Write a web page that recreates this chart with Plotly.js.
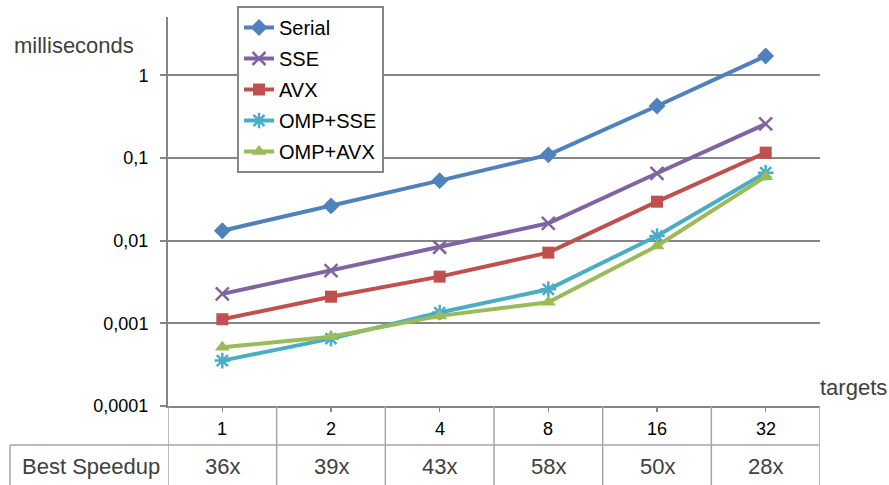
<!DOCTYPE html>
<html>
<head>
<meta charset="utf-8">
<script src="https://cdn.plot.ly/plotly-3.0.1.min.js"></script>
<style>html,body{margin:0;padding:0;background:#fff;}#chart{width:889px;height:485px;}</style>
</head>
<body>
<div id="chart"></div>
<script>
// ---- data ----
const targets = ['1', '2', '4', '8', '16', '32'];
const serial  = [0.0132, 0.0263, 0.0532, 0.109, 0.425, 1.71];
const sse     = [0.00227, 0.00434, 0.00832, 0.0162, 0.0653, 0.258];
const avx     = [0.00112, 0.0021, 0.00367, 0.00716, 0.0296, 0.116];
const ompSse  = [0.000354, 0.000653, 0.00135, 0.00258, 0.0114, 0.0664];
const ompAvx  = [0.000514, 0.00069, 0.00123, 0.0018, 0.00863, 0.0594];
const speedups = ['36x', '39x', '43x', '58x', '50x', '28x'];
const yTickVals = [0.0001, 0.001, 0.01, 0.1, 1];
const yTickText = ['0,0001', '0,001', '0,01', '0,1', '1'];

const FONT = 'Liberation Sans, Arial, sans-serif';
const W = 889, H = 485;
const M = {l: 168, r: 69, t: 17, b: 79, autoexpand: false};
const PW = W - M.l - M.r, PH = H - M.t - M.b;
const px = X => (X - M.l) / PW;          // pixel x -> paper x
const py = Y => (H - M.b - Y) / PH;      // pixel y -> paper y

function series(name, y, color, marker) {
  return {
    type: 'scatter', mode: 'lines+markers', name: name, legendgroup: name,
    x: targets, y: y,
    line: {color: color, width: 4},
    marker: Object.assign({color: color}, marker)
  };
}

const data = [
  series('Serial', serial, '#4F81BD', {symbol: 'diamond', size: 13}),
  series('SSE', sse, '#8064A2', {symbol: 'x-thin-open', size: 13, line: {color: '#8064A2', width: 2.5}}),
  series('AVX', avx, '#C0504D', {symbol: 'square', size: 12}),
  series('OMP+SSE', ompSse, '#4BACC6', {symbol: 'asterisk-open', size: 13, line: {color: '#4BACC6', width: 2.5}}),
  series('OMP+AVX', ompAvx, '#9BBB59', {symbol: 'triangle-up', size: 13})
];

const TABLE = '#A6A6A6';
const shapes = [];
// vertical table separators at category boundaries
for (let i = 0; i <= targets.length; i++) {
  shapes.push({type: 'line', xref: 'x', yref: 'paper', x0: i - 0.5, x1: i - 0.5,
    y0: 0, y1: py(H + 2), line: {color: TABLE, width: 1.5}});
}
// horizontal separator between rows
shapes.push({type: 'line', xref: 'paper', yref: 'paper', x0: px(10), x1: 1,
  y0: py(445), y1: py(445), line: {color: TABLE, width: 1.5}});
// left border of the "Best Speedup" cell
shapes.push({type: 'line', xref: 'paper', yref: 'paper', x0: px(10), x1: px(10),
  y0: py(445), y1: py(H + 2), line: {color: TABLE, width: 1.5}});

const annotations = [];
targets.forEach((t, i) => {
  annotations.push({xref: 'x', yref: 'paper', x: i, y: py(429), text: t, showarrow: false,
    xanchor: 'center', yanchor: 'middle', font: {family: FONT, size: 18, color: '#000'}});
  annotations.push({xref: 'x', yref: 'paper', x: i, y: py(466), text: speedups[i], showarrow: false,
    xanchor: 'center', yanchor: 'middle', font: {family: FONT, size: 22, color: '#404040'}});
});
annotations.push({xref: 'paper', yref: 'paper', x: px(91), y: py(466), text: 'Best Speedup',
  showarrow: false, xanchor: 'center', yanchor: 'middle', font: {family: FONT, size: 22, color: '#404040'}});
annotations.push({xref: 'paper', yref: 'paper', x: px(12), y: py(46), text: 'milliseconds',
  showarrow: false, xanchor: 'left', yanchor: 'middle', font: {family: FONT, size: 22, color: '#404040'}});
annotations.push({xref: 'paper', yref: 'paper', x: px(818), y: py(387), text: 'targets',
  showarrow: false, xanchor: 'left', yanchor: 'middle', font: {family: FONT, size: 22, color: '#404040'}});

const layout = {
  width: W, height: H,
  margin: M,
  paper_bgcolor: '#fff', plot_bgcolor: '#fff',
  font: {family: FONT, size: 18, color: '#000'},
  showlegend: true,
  legend: {
    x: px(237), y: py(6), xanchor: 'left', yanchor: 'top',
    bordercolor: '#868686', borderwidth: 2, bgcolor: '#fff',
    font: {family: FONT, size: 20, color: '#000'},
    tracegroupgap: 2, itemwidth: 30
  },
  xaxis: {
    type: 'category', categoryorder: 'array', categoryarray: targets,
    range: [-0.5, targets.length - 0.5],
    showgrid: false, zeroline: false,
    showline: true, linecolor: '#868686', linewidth: 2,
    ticks: 'outside', ticklen: 4, tickcolor: '#868686', tickwidth: 1.5,
    showticklabels: false, fixedrange: true
  },
  yaxis: {
    type: 'log', range: [-4, 0.705],
    tickvals: yTickVals, ticktext: yTickText,
    showgrid: true, gridcolor: '#868686', gridwidth: 2,
    zeroline: false,
    showline: true, linecolor: '#868686', linewidth: 2,
    ticks: 'outside', ticklen: 6, tickcolor: '#868686', tickwidth: 2,
    ticklabelstandoff: 8,
    tickfont: {family: FONT, size: 18, color: '#000'}
  },
  shapes: shapes,
  annotations: annotations
};

Plotly.newPlot('chart', data, layout, {displayModeBar: false, staticPlot: true});
</script>
</body>
</html>
